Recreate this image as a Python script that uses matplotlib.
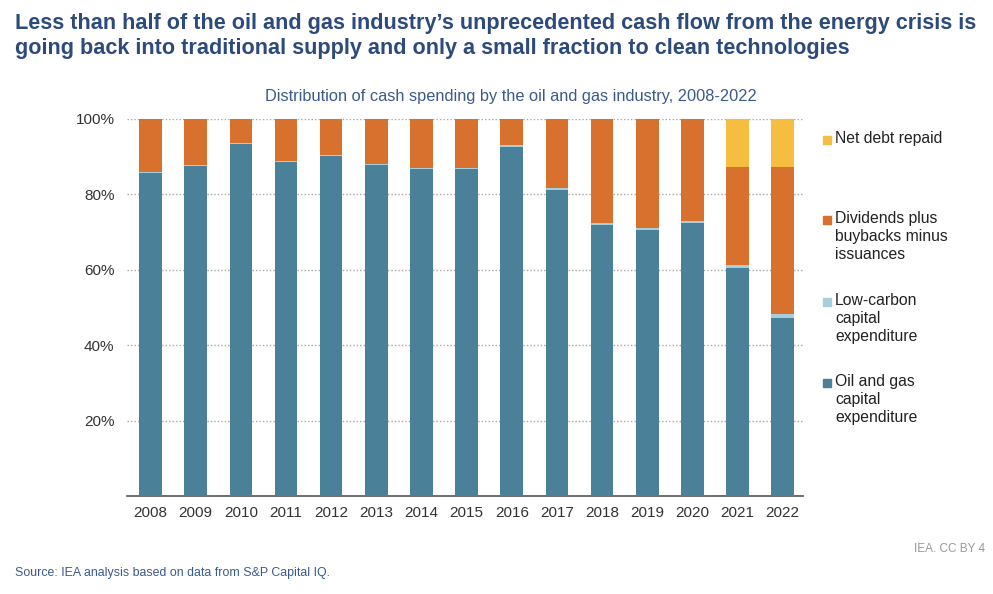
import numpy as np
import matplotlib
matplotlib.use('Agg')
import matplotlib.pyplot as plt
from matplotlib.patches import Rectangle

plt.rcParams['font.family'] = ['Liberation Sans', 'DejaVu Sans']

# Shares of cash spending (%)
years = ['2008', '2009', '2010', '2011', '2012', '2013', '2014', '2015',
         '2016', '2017', '2018', '2019', '2020', '2021', '2022']
oil_gas_capex = [85.6, 87.6, 93.4, 88.7, 90.2, 87.7, 86.6, 86.7,
                 92.7, 81.2, 72.0, 70.6, 72.4, 60.5, 47.1]
low_carbon_capex = [0.3, 0.2, 0.2, 0.2, 0.2, 0.3, 0.3, 0.4,
                    0.4, 0.5, 0.4, 0.4, 0.5, 0.7, 1.1]
dividends = [14.1, 12.2, 6.4, 11.1, 9.6, 12.0, 13.1, 12.9,
             6.9, 18.3, 27.6, 29.0, 27.1, 26.0, 39.0]
net_debt = [0, 0, 0, 0, 0, 0, 0, 0, 0, 0, 0, 0, 0, 12.8, 12.8]

series = [
    ('Oil and gas\ncapital\nexpenditure', oil_gas_capex, '#4a8199'),
    ('Low-carbon\ncapital\nexpenditure', low_carbon_capex, '#a6cfde'),
    ('Dividends plus\nbuybacks minus\nissuances', dividends, '#d8712d'),
    ('Net debt repaid', net_debt, '#f6be41'),
]

fig = plt.figure(figsize=(9.93, 5.94), dpi=100)
ax = fig.add_axes([0.1279, 0.165, 0.6808, 0.6347])

x = np.arange(len(years))
bottom = np.zeros(len(years))
for label, vals, color in series:
    vals = np.array(vals) / 100
    ax.bar(x, vals, width=0.5, bottom=bottom, color=color, edgecolor='none', zorder=3)
    bottom += vals

ax.set_ylim(0, 1)
ax.set_xlim(-0.52, len(years) - 0.55)
ax.set_yticks([0.2, 0.4, 0.6, 0.8, 1.0])
ax.set_yticklabels(['20%', '40%', '60%', '80%', '100%'])
ax.set_xticks(x)
ax.set_xticklabels(years)
ax.tick_params(axis='both', length=0, labelsize=11, colors='#333333')
ax.tick_params(axis='y', pad=9)
ax.tick_params(axis='x', pad=7)
ax.grid(axis='y', color='#a8a8a8', linestyle=(0, (1, 1.5)), linewidth=1, zorder=0)
for s in ['left', 'right', 'top']:
    ax.spines[s].set_visible(False)
ax.spines['bottom'].set_color('#555555')
ax.spines['bottom'].set_linewidth(1.2)

# legend, placed by hand to match the uneven spacing
W, H = 993, 594
legend_y = [140, 220, 302, 383]
for (label, vals, color), y in zip(series[::-1], legend_y):
    fig.patches.append(Rectangle((823 / W, 1 - (y + 4) / H), 8 / W, 8 / H,
                                 transform=fig.transFigure, color=color))
    fig.text(835 / W, 1 - (y - 9) / H, label, fontsize=11.3, color='#222222',
             va='top', ha='left', linespacing=1.27)

fig.text(15 / W, 1 - 36 / H,
         'Less than half of the oil and gas industry\u2019s unprecedented cash flow from the energy crisis is\n'
         'going back into traditional supply and only a small fraction to clean technologies',
         fontsize=15.6, fontweight='bold', color='#2d4a7c', va='center', ha='left',
         linespacing=1.3)
fig.text(0.5 * (265 + 757) / W, 1 - 97 / H,
         'Distribution of cash spending by the oil and gas industry, 2008-2022',
         fontsize=11.8, color='#3a5a8c', ha='center', va='center')
fig.text(15 / W, 1 - 573 / H, 'Source: IEA analysis based on data from S&P Capital IQ.',
         fontsize=8.9, color='#3a5a8c', ha='left', va='center')
fig.text(985 / W, 1 - 549 / H, 'IEA. CC BY 4', fontsize=8.5, color='#999999',
         ha='right', va='center')

fig.savefig('out.png', dpi=100)
